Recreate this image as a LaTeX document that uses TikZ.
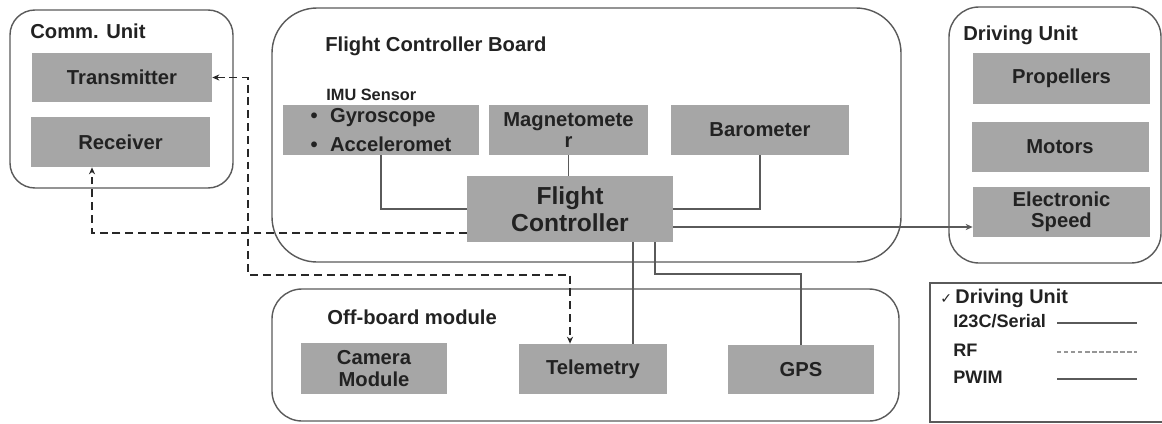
\documentclass[tikz,border=0pt]{standalone}
\usepackage{fontspec}
\setmainfont{Liberation Sans}
\newfontfamily\symfont{DejaVu Sans}
\usetikzlibrary{arrows.meta, calc}

\definecolor{boxgray}{RGB}{166,166,166}
\definecolor{txtgray}{RGB}{34,34,34}
\definecolor{edgegray}{RGB}{90,90,90}
\definecolor{rfgray}{RGB}{40,40,40}
\definecolor{lightrf}{RGB}{150,150,150}

\begin{document}
\begin{tikzpicture}[>={Stealth[length=4pt,width=3.5pt]}, x=0.02cm, y=-0.02cm,
	unit/.style={fill=boxgray, text=txtgray, font=\bfseries\fontsize{11.5}{12}\selectfont, align=center, inner sep=0pt},
	group/.style={draw=edgegray, line width=0.8pt},
	title/.style={anchor=base west, text=txtgray, font=\bfseries\fontsize{11.5}{13}\selectfont, inner sep=0pt},
	legtext/.style={anchor=base west, text=txtgray, font=\bfseries\fontsize{10.3}{12}\selectfont, inner sep=0pt},
	link/.style={draw=edgegray, line width=0.7pt},
	rf/.style={draw=rfgray, line width=1.1pt, dash pattern=on 4.5pt off 2.8pt}]
	\useasboundingbox (0,0) rectangle (1162,423);
	\clip (0,0) rectangle (1162,423);
	\coordinate (rx) at (92,233);
	\coordinate (tmA) at (248,275);
	\coordinate (tmB) at (570,275);
	\coordinate (tl) at (633,300);
	\coordinate (gp) at (655,274);
	\coordinate (pw) at (700,227);
	% Unit frames
	\draw[group, rounded corners=0.5cm] (10,10) rectangle (233,188);
	\draw[group, rounded corners=0.9cm] (272,8) rectangle (901,262);
	\draw[group, rounded corners=0.6cm] (949,7) rectangle (1161,263);
	\draw[group, rounded corners=0.6cm] (272,289) rectangle (899,421);
	\draw[group] (930,283) rectangle (1185,422);
	\node[title] (commT) at (30,38) {Comm. Unit};
	\node[title] (fcbT) at (325,51) {Flight Controller Board};
	\node[title] (driveT) at (963,40) {Driving Unit};
	\node[title] (offT) at (327,324) {Off-board module};
	\node[title, font=\bfseries\fontsize{9.3}{11}\selectfont] (imuT) at (326,100) {IMU Sensor};
	
	% Comm. unit
	\node[unit, minimum width=3.6cm, minimum height=0.98cm] (trans) at (122,77.5) {Transmitter};
	\node[unit, minimum width=3.58cm, minimum height=1cm] (recv) at (120.5,142) {Receiver};
	% Flight controller board
	\node[unit, align=left, minimum width=3.92cm, minimum height=1cm] (imu) at (381,130)
		{\textbullet\hspace{7pt}Gyroscope\\[4.4pt]\textbullet\hspace{7pt}Acceleromet};
	\node[unit, minimum width=3.18cm, minimum height=1cm] (mag) at (568.5,130) {Magnetomete\\r};
	\node[unit, minimum width=3.56cm, minimum height=1cm] (baro) at (760,130) {Barometer};
	\node[unit, minimum width=4.12cm, minimum height=1.32cm, font=\bfseries\fontsize{14}{15.5}\selectfont] (fc) at (570,209) {Flight\\Controller};
	% Driving unit
	\node[unit, minimum width=3.54cm, minimum height=1.02cm] (prop) at (1061.5,78.5) {Propellers};
	\node[unit, minimum width=3.54cm, minimum height=1cm] (motor) at (1060,147) {Motors};
	\node[unit, minimum width=3.54cm, minimum height=1cm] (esc) at (1061.5,212) {Electronic\\Speed};
	% Off-board
	\node[unit, minimum width=2.92cm, minimum height=1.02cm] (cam) at (374,368.5) {Camera\\Module};
	\node[unit, minimum width=2.96cm, minimum height=1cm] (tele) at (593,369) {Telemetry};
	\node[unit, minimum width=2.92cm, minimum height=0.98cm] (gps) at (801,369.5) {GPS};
	
	% I2C / serial
	\draw[link] (imu.south) |- (fc.west);
	\draw[link] (mag.south) -- (fc.north -| mag.south);
	\draw[link] (baro.south) |- (fc.east);
	\draw[link] (fc.south -| tl) -- (tele.north -| tl);
	\draw[link] (fc.south -| gp) -- (gp) -| (gps.north);
	% PWM
	\draw[link,->] (fc.east |- pw) -- (esc.west |- pw);
	% RF
	\draw[rf,->] (fc.west |- rx) -| (recv.south -| rx);
	\draw[rf,<->] (trans.east) -| (tmA) -- (tmB) -- (tele.north -| tmB);
	
	% Legend
	\node[legtext, font=\bfseries\fontsize{11.3}{13}\selectfont] (lgHead) at (940,303) {{\symfont\fontsize{8}{8}\selectfont ✓}\,Driving Unit};
	\node[legtext] (lgSer) at (953,327) {I23C/Serial};
	\node[legtext] (lgRf) at (953,356) {RF};
	\node[legtext] (lgPw) at (953,383) {PWIM};
	\draw[link] (1057,323) -- (1137,323);
	\draw[lightrf, line width=0.7pt, dash pattern=on 2.5pt off 1.5pt] (1057,352) -- (1137,352);
	\draw[link] (1057,379) -- (1137,379);
\end{tikzpicture}
\end{document}
